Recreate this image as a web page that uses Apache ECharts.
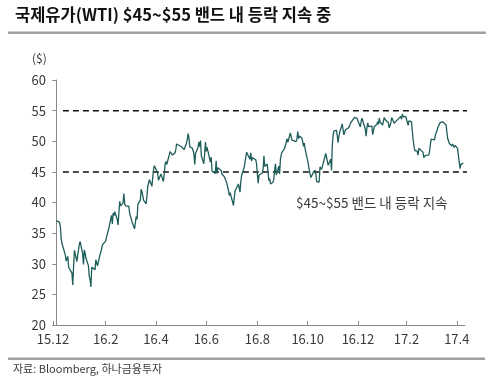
<!DOCTYPE html>
<html>
<head>
<meta charset="utf-8">
<script src="https://cdn.jsdelivr.net/npm/echarts@6/dist/echarts.min.js"></script>
<style>
html,body{margin:0;padding:0;background:#fff;}
#c{width:502px;height:383px;}
</style>
</head>
<body>
<div id="c"></div>
<script>
// ---- data ----
const titleText = '국제유가(WTI) $45~$55 밴드 내 등락 지속 중';
const unitText = '($)';
const sourceText = '자료: Bloomberg, 하나금융투자';
const noteText = '$45~$55 밴드 내 등락 지속';
const tickDates = ['2015-12-27','2016-02-29','2016-04-30','2016-06-30','2016-08-31','2016-10-31','2016-12-31','2017-02-28','2017-04-30'];
const tickLabels = ['15.12','16.2','16.4','16.6','16.8','16.10','16.12','17.2','17.4'];
const axisStart = '2015-12-27';
const axisEnd = '2017-05-10';
const bandLevels = [45, 55];
const bandRange = ['2016-01-08', '2017-05-14'];
const prices = [
['2015-12-31',37.04],['2016-01-04',36.76],['2016-01-05',35.97],['2016-01-06',33.97],['2016-01-07',33.27],['2016-01-08',33.16],
['2016-01-11',31.41],['2016-01-12',30.44],['2016-01-13',30.48],['2016-01-14',31.20],['2016-01-15',29.42],['2016-01-19',28.46],
['2016-01-20',26.55],['2016-01-21',29.53],['2016-01-22',32.19],['2016-01-25',30.34],['2016-01-26',31.45],['2016-01-27',32.30],
['2016-01-28',33.22],['2016-01-29',33.62],['2016-02-01',31.62],['2016-02-02',29.88],['2016-02-03',32.28],['2016-02-04',31.72],
['2016-02-05',30.89],['2016-02-08',29.69],['2016-02-09',27.94],['2016-02-10',27.45],['2016-02-11',26.21],['2016-02-12',29.44],
['2016-02-16',29.04],['2016-02-17',30.66],['2016-02-18',30.77],['2016-02-19',29.64],['2016-02-22',31.48],['2016-02-23',31.87],
['2016-02-24',32.15],['2016-02-25',33.07],['2016-02-26',32.78],['2016-02-29',33.75],['2016-03-01',34.40],['2016-03-02',34.66],
['2016-03-03',34.57],['2016-03-04',35.92],['2016-03-07',37.90],['2016-03-08',36.50],['2016-03-09',38.29],['2016-03-10',37.84],
['2016-03-11',38.50],['2016-03-14',37.18],['2016-03-15',36.34],['2016-03-16',38.46],['2016-03-17',40.20],['2016-03-18',39.44],
['2016-03-21',39.91],['2016-03-22',41.45],['2016-03-23',39.79],['2016-03-24',39.46],['2016-03-28',39.39],['2016-03-29',38.28],
['2016-03-30',38.32],['2016-03-31',38.34],['2016-04-01',36.79],['2016-04-04',35.70],['2016-04-05',35.89],['2016-04-06',37.75],
['2016-04-07',37.26],['2016-04-08',39.72],['2016-04-11',40.36],['2016-04-12',42.17],['2016-04-13',41.76],['2016-04-14',41.50],
['2016-04-15',40.36],['2016-04-18',39.78],['2016-04-19',41.08],['2016-04-20',42.63],['2016-04-21',43.18],['2016-04-22',43.73],
['2016-04-25',42.64],['2016-04-26',44.04],['2016-04-27',45.33],['2016-04-28',46.03],['2016-04-29',45.92],['2016-05-02',44.78],
['2016-05-03',43.65],['2016-05-04',43.78],['2016-05-05',44.32],['2016-05-06',44.66],['2016-05-09',43.44],['2016-05-10',44.66],
['2016-05-11',46.23],['2016-05-12',46.70],['2016-05-13',46.21],['2016-05-16',47.72],['2016-05-17',48.31],['2016-05-18',48.19],
['2016-05-19',48.49],['2016-05-20',47.75],['2016-05-23',48.08],['2016-05-24',48.62],['2016-05-25',49.56],['2016-05-26',49.48],
['2016-05-27',49.33],['2016-05-31',49.10],['2016-06-01',49.01],['2016-06-02',49.17],['2016-06-03',48.62],['2016-06-06',49.69],
['2016-06-07',50.36],['2016-06-08',51.23],['2016-06-09',50.56],['2016-06-10',49.07],['2016-06-13',48.88],['2016-06-14',48.49],
['2016-06-15',48.01],['2016-06-16',46.21],['2016-06-17',47.98],['2016-06-20',48.96],['2016-06-21',49.85],['2016-06-22',49.13],
['2016-06-23',50.11],['2016-06-24',47.64],['2016-06-27',46.33],['2016-06-28',47.85],['2016-06-29',49.88],['2016-06-30',48.33],
['2016-07-01',48.99],['2016-07-05',46.60],['2016-07-06',47.43],['2016-07-07',45.14],['2016-07-08',45.41],['2016-07-11',44.76],
['2016-07-12',46.80],['2016-07-13',44.75],['2016-07-14',45.68],['2016-07-15',45.95],['2016-07-18',45.24],['2016-07-19',44.65],
['2016-07-20',44.94],['2016-07-21',44.75],['2016-07-22',44.19],['2016-07-25',43.13],['2016-07-26',42.92],['2016-07-27',41.92],
['2016-07-28',41.14],['2016-07-29',41.60],['2016-08-01',40.06],['2016-08-02',39.51],['2016-08-03',40.83],['2016-08-04',41.93],
['2016-08-05',41.80],['2016-08-08',43.02],['2016-08-09',42.77],['2016-08-10',41.71],['2016-08-11',43.49],['2016-08-12',44.49],
['2016-08-15',45.74],['2016-08-16',46.58],['2016-08-17',46.79],['2016-08-18',48.22],['2016-08-19',48.52],['2016-08-22',47.05],
['2016-08-23',48.10],['2016-08-24',46.77],['2016-08-25',47.33],['2016-08-26',47.64],['2016-08-29',46.98],['2016-08-30',46.35],
['2016-08-31',44.70],['2016-09-01',43.16],['2016-09-02',44.44],['2016-09-06',44.83],['2016-09-07',45.50],['2016-09-08',47.62],
['2016-09-09',45.88],['2016-09-12',46.29],['2016-09-13',44.90],['2016-09-14',43.58],['2016-09-15',43.91],['2016-09-16',43.03],
['2016-09-19',43.30],['2016-09-20',43.85],['2016-09-21',45.34],['2016-09-22',46.32],['2016-09-23',44.48],['2016-09-26',45.93],
['2016-09-27',44.67],['2016-09-28',47.05],['2016-09-29',47.83],['2016-09-30',48.24],['2016-10-03',48.81],['2016-10-04',48.69],
['2016-10-05',49.83],['2016-10-06',50.44],['2016-10-07',49.81],['2016-10-10',51.35],['2016-10-11',50.79],['2016-10-12',50.18],
['2016-10-13',50.44],['2016-10-14',50.35],['2016-10-17',49.94],['2016-10-18',50.29],['2016-10-19',51.60],['2016-10-20',50.43],
['2016-10-21',50.85],['2016-10-24',50.52],['2016-10-25',49.96],['2016-10-26',49.18],['2016-10-27',49.72],['2016-10-28',48.70],
['2016-10-31',46.86],['2016-11-01',46.67],['2016-11-02',45.34],['2016-11-03',44.66],['2016-11-04',44.07],['2016-11-07',44.89],
['2016-11-08',44.98],['2016-11-09',45.27],['2016-11-10',44.66],['2016-11-11',43.41],['2016-11-14',43.32],['2016-11-15',45.81],
['2016-11-16',45.57],['2016-11-17',45.42],['2016-11-18',45.69],['2016-11-21',47.49],['2016-11-22',48.03],['2016-11-23',47.96],
['2016-11-25',46.06],['2016-11-28',47.08],['2016-11-29',45.23],['2016-11-30',49.44],['2016-12-01',51.06],['2016-12-02',51.68],
['2016-12-05',51.79],['2016-12-06',50.93],['2016-12-07',49.77],['2016-12-08',50.84],['2016-12-09',51.50],['2016-12-12',52.83],
['2016-12-13',52.98],['2016-12-14',51.04],['2016-12-15',50.90],['2016-12-16',51.90],['2016-12-19',52.12],['2016-12-20',52.23],
['2016-12-21',52.49],['2016-12-22',52.95],['2016-12-23',53.02],['2016-12-27',53.90],['2016-12-28',54.06],['2016-12-29',53.77],
['2016-12-30',53.72],['2017-01-03',52.33],['2017-01-04',53.26],['2017-01-05',53.76],['2017-01-06',53.99],['2017-01-09',51.96],
['2017-01-10',50.82],['2017-01-11',52.25],['2017-01-12',53.01],['2017-01-13',52.37],['2017-01-17',52.48],['2017-01-18',51.08],
['2017-01-19',51.37],['2017-01-20',52.42],['2017-01-23',52.75],['2017-01-24',53.18],['2017-01-25',52.75],['2017-01-26',53.78],
['2017-01-27',53.17],['2017-01-30',52.63],['2017-01-31',52.81],['2017-02-01',53.88],['2017-02-02',53.54],['2017-02-03',53.83],
['2017-02-06',53.01],['2017-02-07',52.17],['2017-02-08',52.34],['2017-02-09',53.00],['2017-02-10',53.86],['2017-02-13',52.93],
['2017-02-14',53.20],['2017-02-15',53.11],['2017-02-16',53.36],['2017-02-17',53.40],['2017-02-21',54.06],['2017-02-22',53.59],
['2017-02-23',54.45],['2017-02-24',53.99],['2017-02-27',54.05],['2017-02-28',54.01],['2017-03-01',53.83],['2017-03-02',52.61],
['2017-03-03',53.33],['2017-03-06',53.20],['2017-03-07',53.14],['2017-03-08',50.28],['2017-03-09',49.28],['2017-03-10',48.49],
['2017-03-13',48.40],['2017-03-14',47.72],['2017-03-15',48.86],['2017-03-16',48.75],['2017-03-17',48.78],['2017-03-20',48.22],
['2017-03-21',47.34],['2017-03-22',47.04],['2017-03-23',47.70],['2017-03-24',47.97],['2017-03-27',47.73],['2017-03-28',48.37],
['2017-03-29',49.51],['2017-03-30',50.35],['2017-03-31',50.60],['2017-04-03',50.24],['2017-04-04',51.03],['2017-04-05',51.15],
['2017-04-06',51.70],['2017-04-07',52.24],['2017-04-10',53.08],['2017-04-11',53.40],['2017-04-12',53.11],['2017-04-13',53.18],
['2017-04-17',52.65],['2017-04-18',52.41],['2017-04-19',50.44],['2017-04-20',50.27],['2017-04-21',49.62],['2017-04-24',49.23],
['2017-04-25',49.56],['2017-04-26',49.62],['2017-04-27',48.97],['2017-04-28',49.33],['2017-05-01',48.84],['2017-05-02',47.66],
['2017-05-03',47.82],['2017-05-04',45.52],['2017-05-05',46.22],['2017-05-08',46.43]
];

// ---- helpers ----
function dayIndex(s) {
  const p = s.split('-').map(Number);
  return (Date.UTC(p[0], p[1] - 1, p[2]) - Date.UTC(2015, 11, 31)) / 86400000;
}
const tickPos = tickDates.map(dayIndex);
const labelOf = {};
tickPos.forEach((v, i) => { labelOf[v] = tickLabels[i]; });

const FONT = "'Noto Sans CJK KR', 'Noto Sans', sans-serif";
const AXIS = '#8a8a8a';
const TXT = '#3a3a3a';

const chart = echarts.init(document.getElementById('c'), null, {renderer: 'canvas'});
const series = [{
  type: 'line',
  data: prices.map(d => [dayIndex(d[0]), d[1]]),
  showSymbol: false,
  symbol: 'none',
  lineStyle: {color: '#1E5E5A', width: 1.3},
  z: 3
}];
bandLevels.forEach(lv => {
  series.push({
    type: 'line',
    data: [[dayIndex(bandRange[0]), lv], [dayIndex(bandRange[1]), lv]],
    showSymbol: false,
    symbol: 'none',
    clip: false,
    lineStyle: {color: '#111', width: 1.5, type: [6, 4]},
    z: 2
  });
});

chart.setOption({
  animation: false,
  backgroundColor: '#fff',
  grid: {left: 53, right: 37, top: 80, bottom: 58, containLabel: false},
  xAxis: {
    type: 'value',
    min: dayIndex(axisStart),
    max: dayIndex(axisEnd),
    axisLine: {show: true, lineStyle: {color: AXIS, width: 1}},
    axisTick: {show: true, customValues: tickPos, inside: true, length: 4, lineStyle: {color: AXIS}},
    axisLabel: {customValues: tickPos, formatter: v => labelOf[v] || '', color: TXT, fontSize: 13, fontFamily: FONT, margin: 8},
    splitLine: {show: false}
  },
  yAxis: {
    type: 'value',
    min: 20, max: 60, interval: 5,
    axisLine: {show: true, lineStyle: {color: AXIS, width: 1}},
    axisTick: {show: true, length: 4, lineStyle: {color: AXIS}},
    axisLabel: {color: TXT, fontSize: 13, fontFamily: FONT, margin: 7},
    splitLine: {show: false}
  },
  series: series,
  graphic: [
    {type: 'text', left: 15, top: 6, style: {text: titleText, font: "bold 16.5px 'Noto Sans CJK KR', sans-serif", fill: '#111'}},
    {type: 'rect', shape: {x: 8, y: 31.5, width: 478, height: 2.5}, style: {fill: '#a0a0a0'}},
    {type: 'text', left: 32, top: 52, style: {text: unitText, font: "12px 'Noto Sans CJK KR', sans-serif", fill: TXT}},
    {type: 'text', left: 296, top: 196, style: {text: noteText, font: "13.5px 'Noto Sans CJK KR', sans-serif", fill: TXT}},
    {type: 'rect', shape: {x: 8, y: 357.5, width: 477, height: 2.5}, style: {fill: '#a0a0a0'}},
    {type: 'text', left: 13, top: 363, style: {text: sourceText, font: "11px 'Noto Sans CJK KR', sans-serif", fill: TXT}}
  ]
});
</script>
</body>
</html>
